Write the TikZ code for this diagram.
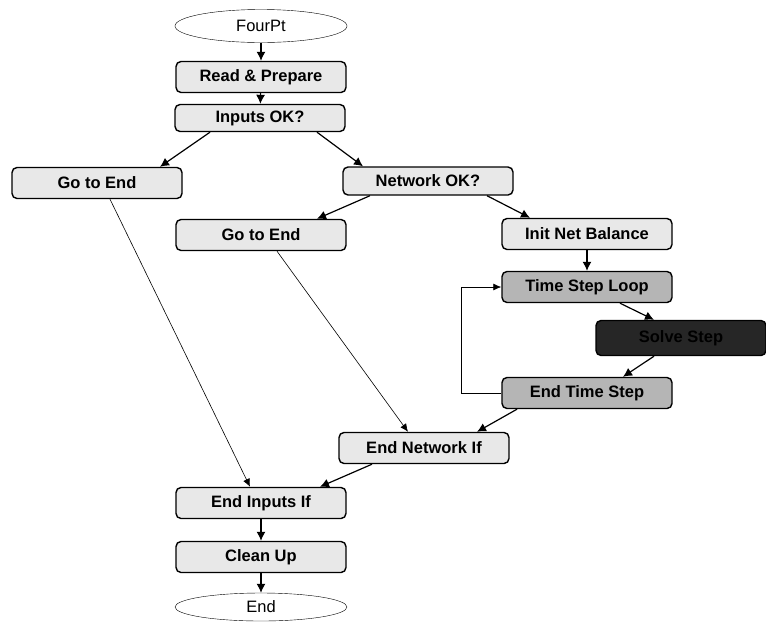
\documentclass[tikz,border=0pt]{standalone}
\usepackage{fontspec}
\setsansfont{Liberation Sans}
\usetikzlibrary{shapes.geometric,arrows.meta}

\tikzset{
  task/.style={draw, line width=1.4pt, rounded corners=5pt, fill=gray!18,
    minimum width=170pt, minimum height=31pt, inner sep=0pt,
    font=\sffamily\bfseries\fontsize{16.5}{18}\selectfont},
  loopbox/.style={task, fill=gray!58},
  darkbox/.style={task, fill=black!85, text=black},
  term/.style={draw, thin, ellipse, fill=white, minimum width=172pt,
    minimum height=33pt, inner sep=0pt, font=\sffamily\fontsize{16.5}{18}\selectfont},
  flow/.style={draw, line width=1.2pt, -{Latex[length=9pt,width=9pt]}},
  jump/.style={draw, line width=0.6pt, -{Latex[length=8pt,width=7pt]}},
}

\begin{document}
\begin{tikzpicture}[x=1pt, y=-1pt]
\useasboundingbox (0,0) rectangle (766,622);
\node[term] (four) at (261,26) {FourPt};
\node[task] (read) at (261,77) {Read \& Prepare};
\node[task, minimum height=27pt] (inok) at (260,118) {Inputs OK?};
\node[task] (goA) at (97,183) {Go to End};
\node[task, minimum height=28pt] (netok) at (428,181) {Network OK?};
\node[task] (goB) at (261,235) {Go to End};
\node[task] (init) at (587,234) {Init Net Balance};
\node[loopbox] (tsl) at (587,287) {Time Step Loop};
\node[darkbox, minimum height=35pt] (solve) at (681,338) {Solve Step};
\node[loopbox] (ets) at (587,393) {End Time Step};
\node[task] (enif) at (424,448) {End Network If};
\node[task] (eiif) at (261,503) {End Inputs If};
\node[task] (clean) at (261,557) {Clean Up};
\node[term, minimum height=28pt] (end) at (261,607) {End};

\draw[flow] (four) -- (read);
\draw[flow] (read) -- (inok);
\draw[flow] ([xshift=-50pt]inok.south) -- ([xshift=63pt]goA.north);
\draw[flow] ([xshift=57pt]inok.south) -- ([xshift=-65pt]netok.north);
\draw[flow] ([xshift=-58pt]netok.south) -- ([xshift=56pt]goB.north);
\draw[flow] ([xshift=59pt]netok.south) -- ([xshift=-57pt]init.north);
\draw[flow] (init) -- (tsl);
\draw[flow] ([xshift=33pt]tsl.south) -- ([xshift=-27pt]solve.north);
\draw[flow] ([xshift=-27pt]solve.south) -- ([xshift=36pt]ets.north);
\draw[jump] (ets.west) -- ++(-40,0) |- (tsl.west);
\draw[flow] ([xshift=-70pt]ets.south) -- ([xshift=53pt]enif.north);
\draw[jump] ([xshift=16pt]goB.south) -- ([xshift=-16pt]enif.north);
\draw[jump] ([xshift=13pt]goA.south) -- ([xshift=-11pt]eiif.north);
\draw[flow] ([xshift=-52pt]enif.south) -- ([xshift=59pt]eiif.north);
\draw[flow] (eiif) -- (clean);
\draw[flow] (clean) -- (end);
\end{tikzpicture}
\end{document}
